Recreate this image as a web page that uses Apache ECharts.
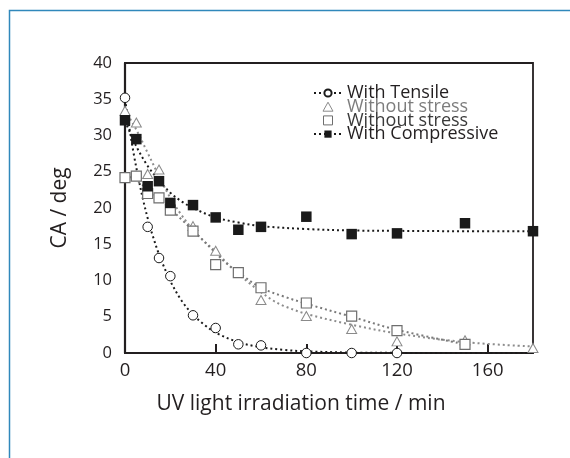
<!DOCTYPE html>
<html>
<head>
<meta charset="utf-8">
<script src="https://cdn.jsdelivr.net/npm/echarts@6/dist/echarts.min.js"></script>
<style>
  html, body { margin: 0; padding: 0; background: #fff; }
  #chart { width: 570px; height: 458px; }
</style>
</head>
<body>
<div id="chart"></div>
<script>
// Measured contact angle (deg) against UV irradiation time (min)
const tensileTime = [0, 10, 15, 20, 30, 40, 50, 60, 80, 100, 120];
const tensileCA   = [35.2, 17.4, 13.1, 10.6, 5.2, 3.45, 1.2, 1.05, 0, 0, 0];

const noStressTriTime = [0, 5, 10, 15, 30, 40, 60, 80, 100, 120, 150, 180];
const noStressTriCA   = [33.4, 31.8, 24.7, 25.3, 17.5, 14.1, 7.3, 5.1, 3.3, 1.6, 1.75, 0.7];

const noStressSqTime = [0, 5, 10, 15, 20, 30, 40, 50, 60, 80, 100, 120, 150];
const noStressSqCA   = [24.2, 24.4, 22.0, 21.4, 19.7, 16.8, 12.2, 11.1, 9.0, 6.9, 5.1, 3.1, 1.2];

const compressTime = [0, 5, 10, 15, 20, 30, 40, 50, 60, 80, 100, 120, 150, 180];
const compressCA   = [32.1, 29.5, 23.0, 23.7, 20.7, 20.4, 18.7, 17.0, 17.4, 18.8, 16.4, 16.5, 17.9, 16.8];

// Fitted trend curves (time, CA)
const tensileFitTime = [0, 2, 4, 6, 8, 10, 12, 15, 18, 20, 25, 30, 35, 40, 50, 60, 70, 80, 100, 120, 150, 180];
const tensileFitCA   = [35, 30.9, 27.2, 24.0, 21.1, 18.6, 16.4, 13.6, 11.3, 9.9, 7.2, 5.3, 3.9, 2.8, 1.5, 0.8, 0.43, 0.23, 0.06, 0.02, 0, 0];

const triFitTime = [0, 5, 10, 15, 20, 25, 30, 35, 40, 45, 50, 55, 60, 65, 70, 80, 100, 120, 150, 180];
const triFitCA   = [33.5, 30.8, 27.6, 24.4, 21.4, 19.0, 17.0, 15.4, 14.0, 12.4, 10.9, 9.6, 8.4, 7.3, 6.5, 5.4, 3.9, 2.7, 1.5, 0.9];

const sqFitTime = [0, 5, 10, 15, 20, 25, 30, 40, 45, 50, 60, 70, 80, 100, 120, 150];
const sqFitCA   = [24.6, 23.8, 22.6, 21.3, 19.9, 18.4, 16.9, 13.8, 12.3, 11.1, 9.0, 7.8, 6.8, 5.0, 3.2, 1.2];

const compressFitTime = [0, 5, 10, 15, 20, 25, 30, 40, 50, 60, 80, 100, 120, 150, 180];
const compressFitCA   = [32, 28.5, 25.8, 23.8, 22.1, 20.9, 20.0, 18.7, 18.0, 17.5, 17.1, 16.9, 16.85, 16.8, 16.8];

const xTicks = { min: 0, max: 180, interval: 40 };
const yTicks = { min: 0, max: 40, interval: 5 };

const zip = (xs, ys) => xs.map((x, i) => [x, ys[i]]);

const FONT = '"Open Sans", "Noto Sans", sans-serif';
const INK = '#231f20';
const GRAY_TRI = '#8a8a8a';
const GRAY_SQ = '#6e6e6e';

const chart = echarts.init(document.getElementById('chart'), null, { renderer: 'canvas' });

chart.setOption({
  animation: false,
  backgroundColor: '#fff',
  textStyle: { fontFamily: FONT },
  graphic: [{
    type: 'rect',
    shape: { x: 9.5, y: 10.5, width: 600, height: 500 },
    style: { fill: 'none', stroke: '#3088bb', lineWidth: 1.5 },
    silent: true
  }],
  grid: {
    left: 125, right: 37, top: 63, bottom: 105,
    show: true, borderColor: INK, borderWidth: 1.8, backgroundColor: 'transparent'
  },
  legend: {
    orient: 'vertical',
    left: 308, top: 79,
    padding: 5,
    itemWidth: 28, itemHeight: 9, itemGap: -4.3,
    symbolKeepAspect: true,
    itemStyle: { borderWidth: 1 },
    textStyle: { fontFamily: FONT, fontSize: 18, color: INK },
    formatter: name => name.split('|')[0],
    data: [
      'With Tensile',
      { name: 'Without stress|tri', icon: 'path://M5 0L10 9L0 9Z', textStyle: { color: '#7d7d7d' } },
      { name: 'Without stress|sq', icon: 'path://M0 0H9V9H0Z', textStyle: { color: '#3a3a3a' } },
      'With Compressive'
    ]
  },
  xAxis: {
    type: 'value',
    min: xTicks.min, max: xTicks.max, interval: xTicks.interval,
    name: 'UV light irradiation time / min',
    nameLocation: 'middle', nameGap: 41,
    nameTextStyle: { fontFamily: FONT, fontSize: 21, color: INK, padding: [0, 56, 0, 0] },
    axisLine: { lineStyle: { color: INK, width: 2.2 } },
    axisTick: { show: true, inside: true, length: 9, lineStyle: { color: INK, width: 2 } },
    axisLabel: { color: INK, fontSize: 18.5, margin: 8, showMaxLabel: false, fontFamily: FONT },
    splitLine: { show: false }
  },
  yAxis: {
    type: 'value',
    min: yTicks.min, max: yTicks.max, interval: yTicks.interval,
    name: 'CA / deg',
    nameLocation: 'middle', nameGap: 54,
    nameTextStyle: { fontFamily: FONT, fontSize: 21, color: INK },
    axisLine: { show: true, lineStyle: { color: INK, width: 2.2 } },
    axisTick: { show: false },
    axisLabel: { color: INK, fontSize: 16.5, margin: 13, fontFamily: FONT },
    splitLine: { show: false }
  },
  series: [
    {
      name: 'With Tensile', type: 'line', smooth: 0.35,
      data: zip(tensileFitTime, tensileFitCA),
      symbol: 'emptyCircle', symbolSize: 8, showSymbol: false,
      lineStyle: { color: '#1a1a1a', width: 2, type: [2, 3] },
      itemStyle: { color: '#1a1a1a' }, z: 2
    },
    {
      name: 'With Compressive', type: 'line', smooth: 0.35,
      data: zip(compressFitTime, compressFitCA),
      symbol: 'rect', symbolSize: 8, showSymbol: false,
      lineStyle: { color: '#1a1a1a', width: 2, type: [2, 3] },
      itemStyle: { color: '#1a1a1a' }, z: 2
    },
    {
      name: 'triangle trend', type: 'line', smooth: 0.35,
      data: zip(triFitTime, triFitCA), showSymbol: false,
      lineStyle: { color: '#8c8c8c', width: 2, type: [2, 3] }, z: 2
    },
    {
      name: 'square trend', type: 'line', smooth: 0.35,
      data: zip(sqFitTime, sqFitCA), showSymbol: false,
      lineStyle: { color: '#7a7a7a', width: 2, type: [2, 3] }, z: 2
    },
    {
      name: 'Without stress|tri', type: 'scatter',
      data: zip(noStressTriTime, noStressTriCA),
      symbol: 'triangle', symbolSize: [10, 9],
      itemStyle: { color: '#fff', borderColor: GRAY_TRI, borderWidth: 1, opacity: 1 }, z: 5
    },
    {
      name: 'Without stress|sq', type: 'scatter',
      data: zip(noStressSqTime, noStressSqCA),
      symbol: 'rect', symbolSize: 10,
      itemStyle: { color: '#fff', borderColor: GRAY_SQ, borderWidth: 1.2, opacity: 1 }, z: 5
    },
    {
      name: 'tensile points', type: 'scatter',
      data: zip(tensileTime, tensileCA),
      symbol: 'circle', symbolSize: 9.5,
      itemStyle: { color: '#fff', borderColor: '#1a1a1a', borderWidth: 1, opacity: 1 }, z: 6
    },
    {
      name: 'compressive points', type: 'scatter',
      data: zip(compressTime, compressCA),
      symbol: 'rect', symbolSize: 10.5,
      itemStyle: { color: '#1a1a1a', opacity: 1 }, z: 6
    }
  ]
});
</script>
</body>
</html>
